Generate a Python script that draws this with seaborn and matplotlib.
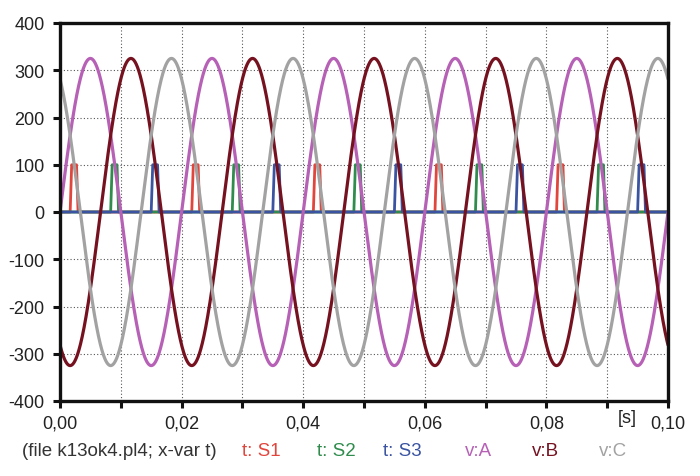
import numpy as np
import pandas as pd
import matplotlib
matplotlib.use("Agg")
import matplotlib.pyplot as plt
import seaborn as sns

# ---- data ----
amplitude = 325.0            # peak voltage of v:A, v:B, v:C
frequency = 50.0             # Hz (period 0.02 s)
phase_deg = {"v:A": 0.0, "v:B": -120.0, "v:C": 120.0}
pulse_height = 100.0
pulse_rise = 0.00025
pulse_flat = 0.0008
s1_onsets = [0.00167, 0.02167, 0.04167, 0.06167, 0.08167]
s2_onsets = [0.00833, 0.02833, 0.04833, 0.06833, 0.08833]
s3_onsets = [0.01500, 0.03500, 0.05500, 0.07500, 0.09500]
x_ticks = [0.00, 0.01, 0.02, 0.03, 0.04, 0.05, 0.06, 0.07, 0.08, 0.09, 0.10]
x_ticklabels = ["0,00", "", "0,02", "", "0,04", "", "0,06", "", "0,08", "", "0,10"]
y_ticks = [-400, -300, -200, -100, 0, 100, 200, 300, 400]
t_end = 0.10

colors = {
    "t: S1": "#e2453c",
    "t: S2": "#2f8c4c",
    "t: S3": "#3a54a2",
    "v:A": "#b661b6",
    "v:B": "#761220",
    "v:C": "#a2a2a2",
}

# ---- build series ----
def pulse_train(onsets):
    xs, ys = [0.0], [0.0]
    for t0 in onsets:
        xs += [t0, t0 + pulse_rise, t0 + pulse_rise + pulse_flat,
               t0 + 2 * pulse_rise + pulse_flat]
        ys += [0.0, pulse_height, pulse_height, 0.0]
    xs.append(t_end)
    ys.append(0.0)
    return pd.DataFrame({"t": xs, "v": ys})

t = np.linspace(0, t_end, 4001)
def wave(name):
    v = amplitude * np.sin(2 * np.pi * frequency * t + np.deg2rad(phase_deg[name]))
    tt = np.concatenate([[0.0], t])
    vv = np.concatenate([[0.0], v])
    return pd.DataFrame({"t": tt, "v": vv})

sns.set_theme(style="white")
plt.rcParams["font.family"] = ["Liberation Sans", "DejaVu Sans"]

fig = plt.figure(figsize=(7.0, 4.77), dpi=100)
ax = fig.add_axes([60 / 700, 1 - 402 / 477, 608 / 700, 378 / 477])

for name, ons in [("t: S1", s1_onsets), ("t: S2", s2_onsets), ("t: S3", s3_onsets)]:
    sns.lineplot(data=pulse_train(ons), x="t", y="v", ax=ax, color=colors[name],
                 linewidth=2.0, sort=False, estimator=None, zorder=3)
for name in ["v:A", "v:B", "v:C"]:
    sns.lineplot(data=wave(name), x="t", y="v", ax=ax, color=colors[name],
                 linewidth=2.3, sort=False, estimator=None, zorder=4)

ax.set_xlim(0, t_end)
ax.set_ylim(-400, 400)
ax.set_xticks(x_ticks)
ax.set_xticklabels(x_ticklabels)
ax.set_yticks(y_ticks)
ax.set_yticklabels([str(v) for v in y_ticks])
ax.set_xlabel("")
ax.set_ylabel("")
ax.grid(True, linestyle=(0, (1, 2)), color="#555555", linewidth=0.8, zorder=1)
ax.set_axisbelow(True)
for sp in ax.spines.values():
    sp.set_visible(True)
    sp.set_color("#111111")
    sp.set_linewidth(2.4)
    sp.set_zorder(6)
ax.tick_params(axis="both", which="major", direction="out", length=5, width=2.2,
               color="#111111", labelsize=13, labelcolor="#222222")
ax.tick_params(axis="y", pad=6)
ax.tick_params(axis="x", pad=5)
ax.tick_params(left=True, bottom=True)

fig.text(627 / 700, 1 - 419 / 477, "[s]", ha="center", va="center",
         fontsize=13, color="#222222")

yl = 1 - 452 / 477
fig.text(22 / 700, yl, "(file k13ok4.pl4; x-var t)", ha="left", va="center",
         fontsize=13.5, color="#333333")
legend_x = {"t: S1": 242, "t: S2": 317, "t: S3": 383, "v:A": 465, "v:B": 532, "v:C": 599}
for name, px in legend_x.items():
    fig.text(px / 700, yl, name, ha="left", va="center", fontsize=13.5,
             color=colors[name])

fig.savefig("out.png", dpi=100, facecolor="white")
